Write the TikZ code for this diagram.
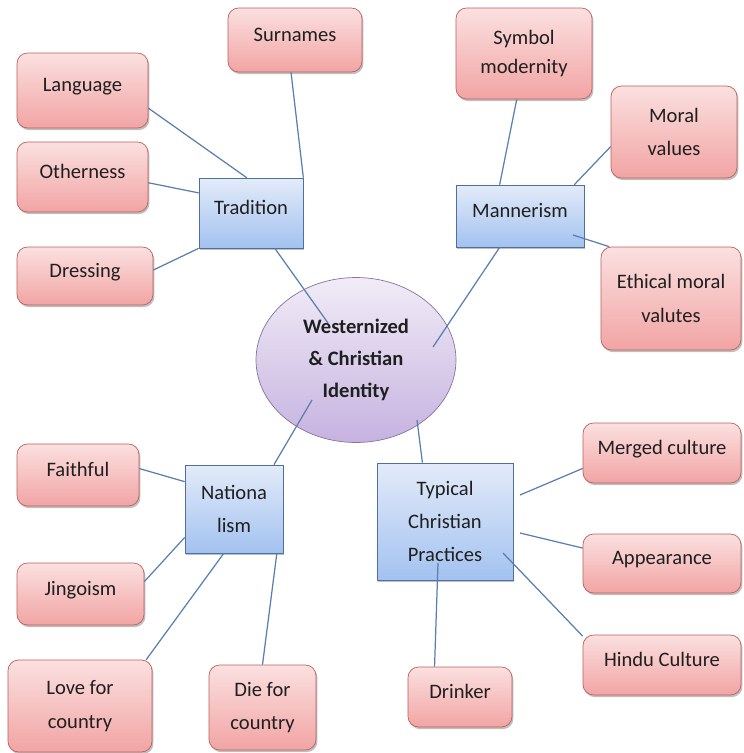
\documentclass[tikz,border=0pt]{standalone}
\usepackage{fontspec}
\setmainfont{Carlito}
\usetikzlibrary{shapes.geometric,shadows}

\definecolor{pinkedge}{HTML}{BC605C}
\definecolor{pinktop}{HTML}{FBE0E0}
\definecolor{pinkbot}{HTML}{F2A4A4}
\definecolor{blueedge}{HTML}{4F6F9C}
\definecolor{bluetop}{HTML}{E3EBF9}
\definecolor{bluebot}{HTML}{A3C2F0}
\definecolor{lilacedge}{HTML}{86739F}
\definecolor{lilactop}{HTML}{F1ECF7}
\definecolor{lilacbot}{HTML}{C6B2E0}
\definecolor{linkblue}{HTML}{5A7EAE}
\definecolor{txt}{HTML}{1F1F1F}

\begin{document}
\begin{tikzpicture}[x=0.02cm, y=-0.02cm,
    font=\fontsize{11.7}{19}\selectfont, text=txt,
    pinkbox/.style={draw=pinkedge, rounded corners=6pt, top color=pinktop, bottom color=pinkbot,
      align=center, inner sep=2pt,
      drop shadow={shadow xshift=0.8pt, shadow yshift=-1.2pt, fill=black, opacity=0.25}},
    bluebox/.style={draw=blueedge, top color=bluetop, bottom color=bluebot, align=center, inner sep=2pt,
      drop shadow={shadow xshift=0.8pt, shadow yshift=-1.2pt, fill=black, opacity=0.25}},
    lift/.style={text depth=6pt},
    link/.style={draw=linkblue, line width=0.7pt}]

  \useasboundingbox (0,0) rectangle (743,753);

  % === Centre ===
  \node[ellipse, draw=lilacedge, top color=lilactop, bottom color=lilacbot, inner sep=0pt,
    minimum width=4cm, minimum height=3.3cm, align=center,
    font=\fontsize{11.7}{18}\selectfont\bfseries] (identity) at (356,360)
    {Westernized\\\& Christian\\Identity};

  % === Tradition (top left) ===
  \node[bluebox, lift, minimum width=2.08cm, minimum height=1.4cm] (tradition) at (251,213) {Tradition};
  \node[pinkbox, lift, minimum width=2.68cm, minimum height=1.28cm] (surnames) at (295,40) {Surnames};
  \node[pinkbox, lift, minimum width=2.62cm, minimum height=1.5cm] (language) at (82.5,90.5) {Language};
  \node[pinkbox, lift, minimum width=2.62cm, minimum height=1.4cm] (otherness) at (82.5,177) {Otherness};
  \node[pinkbox, lift, minimum width=2.72cm, minimum height=1.16cm] (dressing) at (85,276) {Dressing};

  % === Mannerism (top right) ===
  \node[bluebox, lift, minimum width=2.56cm, minimum height=1.24cm] (mannerism) at (520,216) {Mannerism};
  \node[pinkbox, minimum width=2.72cm, minimum height=1.82cm] (symbol) at (524,53.5) {Symbol\\[-3pt]modernity};
  \node[pinkbox, minimum width=2.52cm, minimum height=1.84cm] (moral) at (674,132) {Moral\\values};
  \node[pinkbox, minimum width=2.8cm, minimum height=2.06cm] (ethical) at (671,298.5) {Ethical moral\\valutes};

  % === Nationalism (bottom left) ===
  \node[bluebox, minimum width=1.96cm, minimum height=1.76cm] (nation) at (234,509) {Nationa\\lism};
  \node[pinkbox, lift, minimum width=2.44cm, minimum height=1.24cm] (faithful) at (78,475) {Faithful};
  \node[pinkbox, lift, minimum width=2.54cm, minimum height=1.24cm] (jingoism) at (80.5,594) {Jingoism};
  \node[pinkbox, minimum width=2.88cm, minimum height=1.84cm] (love) at (80,706) {Love for\\country};
  \node[pinkbox, minimum width=2.14cm, minimum height=1.7cm] (die) at (262.5,707.5) {Die for\\country};

  % === Typical Christian Practices (bottom right) ===
  \node[bluebox, minimum width=2.72cm, minimum height=2.34cm] (typical) at (445,521.5) {Typical\\Christian\\Practices};
  \node[pinkbox, lift, minimum width=3.16cm, minimum height=1.2cm] (merged) at (662,453) {Merged culture};
  \node[pinkbox, lift, minimum width=3.16cm, minimum height=1.18cm] (appearance) at (662,563.5) {Appearance};
  \node[pinkbox, lift, minimum width=3.16cm, minimum height=1.2cm] (hindu) at (662,665) {Hindu Culture};
  \node[pinkbox, lift, minimum width=2.08cm, minimum height=1.2cm] (drinker) at (460,697) {Drinker};

  % Free ends of the links
  \coordinate (tradin) at (328,323);
  \coordinate (mannin) at (433,347);
  \coordinate (natin) at (312,400);
  \coordinate (typin) at (417,420);
  \coordinate (ethend) at (573,235);
  \coordinate (mergend) at (520,495);
  \coordinate (append) at (520,533);
  \coordinate (hinend) at (503,553);
  \coordinate (drinkend) at (438,563);

  % Links
  \draw[link] (language.-15) -- (tradition.97);
  \draw[link] (surnames.-97) -- (tradition.north east);
  \draw[link] (otherness.-5) -- (tradition.159);
  \draw[link] (dressing.5) -- (tradition.south west);
  \draw[link] (tradition.-56) -- (tradin);

  \draw[link] (symbol.-99) -- (mannerism.123);
  \draw[link] (moral.193) -- (mannerism.30);
  \draw[link] (ethical.140) -- (ethend);
  \draw[link] (mannerism.-123) -- (mannin);

  \draw[link] (natin) -- (nation.48);
  \draw[link] (faithful.6) -- (nation.151);
  \draw[link] (jingoism.11) -- (nation.210);
  \draw[link] (love.35) -- (nation.257);
  \draw[link] (die.90) -- (nation.-46);

  \draw[link] (typin) -- (typical.111);
  \draw[link] (merged.191) -- (mergend);
  \draw[link] (appearance.169) -- (append);
  \draw[link] (hindu.160) -- (hinend);
  \draw[link] (drinker.130) -- (drinkend);

\end{tikzpicture}
\end{document}
